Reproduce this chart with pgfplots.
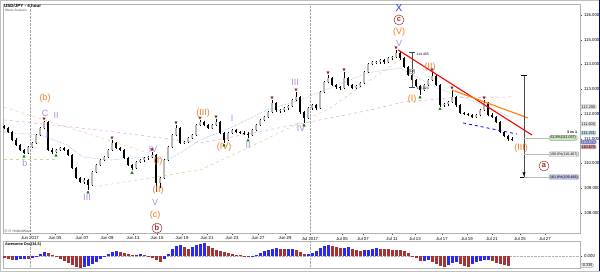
\documentclass[border=0pt]{standalone}
\usepackage{pgfplots}
\pgfplotsset{compat=1.18}
\usepackage{pgfplotstable}
\usepackage{fontspec}
\setmainfont{Liberation Sans}
\definecolor{wavor}{RGB}{245,125,35}
\definecolor{wavpu}{RGB}{175,140,230}
\definecolor{wavbl}{RGB}{30,60,230}
\definecolor{wavbr}{RGB}{165,45,40}
\definecolor{aoblue}{RGB}{40,40,255}
\definecolor{aored}{RGB}{170,50,50}
\definecolor{peach}{RGB}{250,200,160}
\definecolor{khaki}{RGB}{215,210,150}
\definecolor{pinkma}{RGB}{215,165,220}
\definecolor{lblue}{RGB}{150,185,245}
\pgfplotsset{colormap={candle}{color=(black) color=(gray!55)},
             colormap={aocm}{color=(aored) color=(aoblue)}}
\tikzset{
 wo/.style={text=wavor, font=\fontsize{9}{9}\selectfont, inner sep=0pt},
 wp/.style={text=wavpu, font=\fontsize{9}{9}\selectfont, inner sep=0pt},
 wc/.style={circle, draw=wavbr, text=wavbr, font=\bfseries\fontsize{7.5}{7.5}\selectfont, inner sep=0.5pt, minimum size=10pt, line width=0.5pt},
 fibbox/.style={draw=gray!70, rounded corners=1pt, font=\fontsize{3.6}{4}\selectfont, inner xsep=1pt, inner ysep=0.7pt, minimum width=28pt, anchor=west},
 pbox/.style={draw=gray!70, rounded corners=1pt, font=\fontsize{3.8}{4}\selectfont, inner xsep=1pt, inner ysep=0.6pt, anchor=west}
}
\pgfplotstableread{
x o h l c m
4 111.50 111.55 111.38 111.43 0
8 111.43 111.47 111.22 111.27 0
12 111.27 111.30 110.90 110.95 0
16 110.95 111.02 110.70 110.75 0
20 110.75 110.80 110.50 110.55 0
24 110.55 110.60 110.38 110.42 0
28 110.42 110.72 110.40 110.67 1
32 110.67 110.88 110.62 110.83 1
36 110.83 111.20 110.80 111.15 1
40 111.15 111.48 111.10 111.43 1
44 111.43 111.72 111.40 111.68 1
48 111.68 111.70 110.50 110.55 0
52 110.55 110.62 110.40 110.47 0
56 110.47 110.60 110.42 110.55 1
60 110.55 110.68 110.50 110.63 1
64 110.63 110.66 110.50 110.55 0
68 110.55 110.58 110.30 110.34 0
72 110.34 110.38 109.78 109.82 0
76 109.82 109.86 109.38 109.42 0
80 109.42 109.46 109.20 109.25 0
84 109.25 109.40 109.18 109.33 1
88 109.33 109.36 108.93 109.13 0
92 109.13 109.70 109.10 109.66 1
96 109.66 109.98 109.60 109.94 1
100 109.94 110.18 109.90 110.14 1
104 110.14 110.30 110.10 110.26 1
108 110.26 110.60 110.22 110.55 1
112 110.55 110.95 110.50 110.83 1
116 110.83 110.86 110.58 110.63 0
120 110.63 110.68 110.50 110.55 0
124 110.55 110.58 110.18 110.22 0
128 110.22 110.26 109.90 109.94 0
132 109.94 109.98 109.72 109.82 0
136 109.82 110.10 109.78 110.06 1
140 110.06 110.18 110.02 110.14 1
144 110.14 110.26 110.08 110.22 1
148 110.22 110.30 110.15 110.26 1
152 110.26 110.47 110.22 110.34 1
156 110.34 110.38 108.85 109.21 0
160 109.21 109.46 109.00 109.42 1
164 109.42 110.18 109.38 110.14 1
168 110.14 110.70 110.10 110.67 1
172 110.67 111.18 110.62 111.15 1
176 111.15 111.56 111.10 111.43 1
180 111.43 111.46 110.80 110.83 0
184 110.83 110.92 110.78 110.87 1
188 110.87 111.06 110.82 111.03 1
192 111.03 111.20 110.98 111.15 1
196 111.15 111.60 111.10 111.56 1
200 111.56 111.75 111.50 111.68 1
204 111.68 111.72 111.50 111.56 0
208 111.56 111.60 111.38 111.43 0
212 111.43 111.60 111.40 111.56 1
216 111.56 111.80 111.52 111.68 1
220 111.68 111.70 111.18 111.23 0
224 111.23 111.26 110.83 110.95 0
228 110.95 111.28 110.90 111.23 1
232 111.23 111.40 111.20 111.35 1
236 111.35 111.38 111.22 111.27 0
240 111.27 111.32 111.18 111.23 0
244 111.23 111.30 111.15 111.21 0
248 111.21 111.26 111.03 111.15 0
252 111.15 111.40 111.12 111.35 1
256 111.35 111.60 111.30 111.56 1
260 111.56 111.80 111.52 111.76 1
264 111.76 111.92 111.70 111.88 1
268 111.88 112.12 111.84 112.08 1
272 112.08 112.57 112.04 112.44 1
276 112.44 112.48 112.10 112.16 0
280 112.16 112.22 112.05 112.18 1
284 112.18 112.28 112.10 112.24 1
288 112.24 112.36 112.18 112.32 1
292 112.32 112.60 112.28 112.57 1
296 112.57 112.89 112.52 112.69 1
300 112.69 112.72 112.02 112.08 0
304 112.08 112.12 111.64 111.84 0
308 111.84 112.28 111.80 112.24 1
312 112.24 112.40 112.18 112.36 1
316 112.36 112.40 112.18 112.24 0
320 112.24 112.92 112.20 112.89 1
324 112.89 113.32 112.85 113.29 1
328 113.29 113.58 113.25 113.45 1
332 113.45 113.48 113.12 113.17 0
336 113.17 113.20 113.02 113.09 0
340 113.09 113.14 112.98 113.05 0
344 113.05 113.70 113.00 113.45 1
348 113.45 113.50 113.12 113.17 0
352 113.17 113.22 113.00 113.05 0
356 113.05 113.18 113.00 113.13 1
360 113.13 113.30 113.08 113.25 1
364 113.25 113.74 113.20 113.70 1
368 113.70 114.06 113.66 114.02 1
372 114.02 114.16 113.96 114.10 1
376 114.10 114.16 114.00 114.12 1
380 114.12 114.22 114.04 114.18 1
384 114.18 114.22 114.04 114.10 0
388 114.10 114.30 114.06 114.26 1
392 114.26 114.36 114.20 114.30 1
396 114.30 114.59 114.26 114.46 1
400 114.46 114.50 114.20 114.26 0
404 114.26 114.30 113.86 113.90 0
408 113.90 113.94 113.54 113.58 0
412 113.58 113.62 113.32 113.37 0
416 113.37 113.40 113.08 113.13 0
420 113.13 113.18 112.77 112.97 0
424 112.97 113.22 112.92 113.17 1
428 113.17 113.42 113.12 113.37 1
432 113.37 113.70 113.32 113.53 1
436 113.53 113.56 113.12 113.17 0
440 113.17 113.20 112.30 112.36 0
444 112.36 112.46 112.30 112.40 1
448 112.40 112.54 112.34 112.48 1
452 112.48 112.97 112.44 112.69 1
456 112.69 112.72 112.30 112.36 0
460 112.36 112.40 112.00 112.04 0
464 112.04 112.10 111.94 112.00 0
468 112.00 112.06 111.90 111.96 0
472 111.96 112.00 111.82 111.88 0
476 111.88 112.00 111.84 111.96 1
480 111.96 112.20 111.92 112.16 1
484 112.16 112.57 112.12 112.44 1
488 112.44 112.48 111.90 111.96 0
492 111.96 112.04 111.84 111.88 0
496 111.88 111.92 111.62 111.68 0
500 111.68 111.72 111.22 111.27 0
504 111.27 111.32 111.06 111.11 0
508 111.11 111.16 110.90 110.99 0
512 110.99 111.06 110.90 110.95 0
}\candles
\pgfplotstableread{
x v m
4 -0.2 0
8 -0.3 0
12 -0.4 0
16 -0.4 1
20 -0.3 1
24 -0.3 1
28 -0.3 0
32 -0.2 1
36 -0.1 1
40 0.2 1
44 0.4 1
48 0.3 0
52 0.1 0
56 -0.1 0
60 -0.3 0
64 -0.5 0
68 -0.7 0
72 -0.9 0
76 -1.1 0
80 -1.2 0
84 -1.1 1
88 -1.0 1
92 -0.8 1
96 -0.6 1
100 -0.3 1
104 -0.1 1
108 0.2 1
112 0.4 1
116 0.5 1
120 0.4 0
124 0.3 0
128 0.2 0
132 0.1 0
136 0.15 1
140 0.2 1
144 0.15 0
148 0.05 0
152 -0.2 0
156 -0.4 0
160 -0.6 0
164 -0.3 1
168 0.2 1
172 0.7 1
176 1.0 1
180 1.1 1
184 0.9 0
188 0.7 0
192 0.9 1
196 1.1 1
200 1.2 1
204 1.3 1
208 1.0 0
212 0.8 0
216 0.6 0
220 0.5 0
224 0.4 0
228 0.3 0
232 0.2 0
236 0.15 0
240 0.1 0
244 0.05 0
248 0.03 0
252 0.05 1
256 0.1 1
260 0.3 1
264 0.5 1
268 0.6 1
272 0.7 1
276 0.8 1
280 0.75 0
284 0.7 0
288 0.72 1
292 0.75 1
296 0.6 0
300 0.4 0
304 0.2 0
308 0.25 1
312 0.3 1
316 0.5 1
320 0.8 1
324 1.0 1
328 1.1 1
332 1.0 0
336 0.9 0
340 0.8 0
344 0.85 1
348 0.9 1
352 0.7 0
356 0.6 0
360 0.55 0
364 0.6 1
368 0.65 1
372 0.7 1
376 0.8 1
380 0.75 0
384 0.72 0
388 0.7 0
392 0.65 0
396 0.62 0
400 0.6 0
404 0.5 0
408 0.3 0
412 0.02 0
416 -0.2 0
420 -0.5 0
424 -0.45 1
428 -0.4 1
432 -0.6 0
436 -0.8 0
440 -1.0 0
444 -1.1 0
448 -0.9 1
452 -0.7 1
456 -0.6 1
460 -0.8 0
464 -1.0 0
468 -1.05 0
472 -0.8 1
476 -0.6 1
480 -0.5 1
484 -0.4 1
488 -0.35 1
492 -0.5 0
496 -0.7 0
500 -0.8 0
504 -0.9 0
508 -1.0 0
}\ao
\begin{document}
\begin{tikzpicture}[x=1pt,y=1pt]
\useasboundingbox (0,0) rectangle (600,271);
\fill[white] (0,0) rectangle (600,271);
\begin{axis}[
  at={(3pt,38pt)}, anchor=south west, scale only axis,
  width=577pt, height=229pt,
  xmin=3, xmax=580, ymin=107.192, ymax=116.444,
  clip=false,
  axis line style={gray!60, line width=0.4pt},
  tick style={gray!60!black, line width=0.3pt},
  tick align=outside, major tick length=1.6pt,
  ytick={108,109,...,116}, ytick pos=right, yticklabel pos=right,
  yticklabel style={font=\fontsize{4.3}{5}\selectfont, xshift=-1pt},
  /pgf/number format/fixed, /pgf/number format/fixed zerofill,
  /pgf/number format/precision=3, /pgf/number format/assume math mode=true,
  xtick={30,55,82,107,133,157,182,207,232,258,285,310,342,363,392,415,442,467,492,520,545},
  xticklabels={Jun 2017,Jun 05,Jun 07,Jun 09,Jun 13,Jun 15,Jun 19,Jun 21,Jun 23,Jun 27,Jun 29,Jul 2017,Jul 05,Jul 07,Jul 11,Jul 13,Jul 17,Jul 19,Jul 21,Jul 25,Jul 27},
  xtick pos=left,
  xticklabel style={font=\fontsize{4.3}{5}\selectfont, yshift=1.2pt},
  colormap name=candle, point meta min=0, point meta max=1,
]
% month separators
\addplot[gray!70, densely dotted, line width=0.4pt] coordinates {(30,107.192)(30,116.444)};
\addplot[gray!70, densely dotted, line width=0.4pt] coordinates {(310,107.192)(310,116.444)};
% moving averages / guide lines
\addplot[pinkma, dashed, line width=0.5pt] coordinates {(4,111.76)(100,111.35)(200,110.83)(300,111.60)(370,112.16)(403,112.48)(450,112.65)(512,112.69)};
\addplot[peach, dashed, line width=0.5pt] coordinates {(4,112.28)(155,110.34)};
\addplot[khaki, dashed, line width=0.5pt] coordinates {(4,110.18)(55,110.18)};
\addplot[khaki, dashed, line width=0.5pt] coordinates {(87,109.01)(200,109.74)(250,110.67)(330,112.24)(370,113.37)(400,114.18)};
\addplot[lblue, densely dotted, line width=0.6pt] coordinates {(4,111.27)(40,111.15)(67,110.75)(83,110.26)(110,110.14)(133,110.22)(153,110.26)(167,110.14)(180,110.42)(200,110.95)(230,111.43)(267,112.16)(300,112.57)(333,113.09)(367,113.66)(400,113.86)(437,113.05)(470,112.57)(500,112.08)(512,111.84)};
% candles
\addplot[black, line width=0.45pt, quiver={u=0, v=\thisrow{h}-\thisrow{l}}] table[x=x,y=l] {\candles};
\addplot[line width=2.4pt, point meta=explicit, quiver={u=0, v=\thisrow{c}-\thisrow{o}, colored}] table[x=x,y=o,meta=m] {\candles};
% peak / trough markers
\addplot[only marks, mark=triangle*, mark size=1.4pt, mark options={rotate=180, fill=wavbr!80!black, draw=wavbr!80!black}] coordinates {(44,111.82)(112,111.05)(152,110.57)(176,111.66)(200,111.85)(216,111.90)(272,112.67)(296,112.99)(328,113.68)(344,113.80)(396,114.69)(432,113.80)(452,113.07)(484,112.67)};
\addplot[only marks, mark=triangle*, mark size=1.4pt, mark options={fill=green!50!black, draw=green!50!black}] coordinates {(24,110.28)(56,110.32)(88,108.83)(132,109.62)(224,110.73)(248,110.93)(304,111.54)(420,112.67)(440,112.20)};
% trend lines
\addplot[red, line width=1.1pt] coordinates {(398,114.59)(532,111.15)};
\addplot[orange, line width=1.1pt] coordinates {(452,112.97)(528,111.84)};
\addplot[blue, dashed, line width=0.8pt] coordinates {(463,111.64)(517,111.19)};
% measure at the top
\addplot[gray!60!black, line width=0.4pt] coordinates {(412,114.49)(412,113.07)};
\addplot[gray!60!black, line width=0.4pt] coordinates {(409,114.49)(415,114.49)};
\addplot[gray!60!black, line width=0.4pt] coordinates {(409,113.07)(415,113.07)};
\node[anchor=west, font=\fontsize{3.4}{4}\selectfont, inner sep=0.5pt] at (axis cs:416,114.42) {114.405};
\node[anchor=west, font=\fontsize{3.4}{4}\selectfont, inner sep=0.5pt] at (axis cs:416,113.05) {113.024};
\node[draw=gray!60, font=\fontsize{3}{3}\selectfont, inner sep=0.6pt] at (axis cs:412,113.73) {1/1};
% fibonacci projection
\addplot[gray!60!black, line width=0.6pt] coordinates {(524,113.54)(524,109.45)};
\addplot[black, line width=0.8pt] coordinates {(521,113.54)(527,113.54)};
\addplot[black, line width=0.8pt] coordinates {(520,109.45)(528,109.45)};
\addplot[black, line width=0.5pt, -latex] coordinates {(524,109.62)(524,109.47)};
\addplot[gray!55, line width=0.8pt] coordinates {(524,111.03)(549,111.03)};
\addplot[gray!55, line width=0.8pt] coordinates {(524,110.38)(549,110.38)};
\addplot[gray!55, line width=0.8pt] coordinates {(524,109.45)(549,109.45)};
\node[fibbox, fill={rgb,255:red,200;green,232;blue,190}] at (axis cs:549,111.03) {61.8\%(111.037)};
\node[fibbox, fill=gray!15] at (axis cs:549,110.38) {100.0\%(110.407)};
\node[fibbox, fill={rgb,255:red,190;green,195;blue,235}] at (axis cs:549,109.45) {161.8\%(109.466)};
\node[font=\bfseries\fontsize{3.6}{4}\selectfont, inner sep=0pt] at (axis cs:572,111.26) {3 vs 1};
% price labels on the axis
\node[pbox, fill=gray!12] at (axis cs:580.5,112.29) {112.290};
\node[pbox, fill=gray!12] at (axis cs:580.5,111.60) {111.600};
\node[pbox, fill={rgb,255:red,190;green,225;blue,245}] at (axis cs:580.5,111.23) {111.231};
\node[pbox, fill={rgb,255:red,110;green,110;blue,200}, text=white] at (axis cs:580.5,110.87) {110.870};
\node[pbox, fill={rgb,255:red,225;green,150;blue,150}] at (axis cs:580.5,110.67) {110.670};
% wave labels
\node[wo] at (axis cs:45,112.65) {(b)};
\node[wp] at (axis cs:45,112.04) {C};
\node[wp] at (axis cs:56,111.96) {II};
\node[wp] at (axis cs:47,111.15) {I};
\node[wp] at (axis cs:25,110.02) {b};
\node[wp] at (axis cs:87,108.65) {III};
\node[wp] at (axis cs:153,110.55) {IV};
\node[wo] at (axis cs:158,110.10) {(I)};
\node[wo] at (axis cs:158,108.93) {(II)};
\node[wp] at (axis cs:155,108.44) {V};
\node[wo] at (axis cs:155,107.92) {(c)};
\node[wc] at (axis cs:157,107.39) {b};
\node[wo] at (axis cs:203,112.04) {(III)};
\node[wp] at (axis cs:232,111.84) {I};
\node[wo] at (axis cs:224,110.67) {(IV)};
\node[wp] at (axis cs:248,110.75) {II};
\node[wp] at (axis cs:295,113.29) {III};
\node[wp] at (axis cs:301,111.43) {IV};
\node[text=wavbl, font=\fontsize{10}{10}\selectfont, inner sep=0pt] at (axis cs:399,116.30) {X};
\node[wc] at (axis cs:399,115.80) {c};
\node[wo] at (axis cs:399,115.31) {(V)};
\node[wp] at (axis cs:399,114.87) {V};
\node[wo] at (axis cs:412,112.61) {(I)};
\node[wo] at (axis cs:430,113.90) {(II)};
\node[wo] at (axis cs:521,110.63) {(III)};
\node[wc] at (axis cs:544,109.90) {a};
\end{axis}
\begin{axis}[
  at={(3pt,3pt)}, anchor=south west, scale only axis,
  width=577pt, height=27pt,
  xmin=3, xmax=580, ymin=-1.2, ymax=1.5,
  clip=false,
  axis line style={gray!60, line width=0.4pt},
  tick style={gray!60!black, line width=0.3pt},
  tick align=outside, major tick length=1.6pt,
  xtick=\empty, ytick={0}, ytick pos=right, yticklabel pos=right,
  yticklabel style={font=\fontsize{4.3}{5}\selectfont, xshift=-1pt},
  /pgf/number format/fixed, /pgf/number format/fixed zerofill,
  /pgf/number format/precision=3, /pgf/number format/assume math mode=true,
  colormap name=aocm, point meta min=0, point meta max=1,
]
\addplot[gray!70, densely dotted, line width=0.4pt] coordinates {(30,-1.2)(30,1.5)};
\addplot[gray!70, densely dotted, line width=0.4pt] coordinates {(310,-1.2)(310,1.5)};
\addplot[gray!60, densely dotted, line width=0.4pt] coordinates {(3,0)(580,0)};
\addplot[line width=3pt, point meta=explicit, quiver={u=0, v=\thisrow{v}, colored}] table[x=x, y expr=0, meta=m] {\ao};
\node[anchor=west, font=\bfseries\fontsize{3.8}{4}\selectfont, inner sep=0pt] at (axis cs:5,1.15) {Awesome Osc(34,5)};
\node[pbox, fill=gray!12] at (axis cs:580.5,-0.95) {-0.335};
\end{axis}
\node[anchor=west, font=\bfseries\fontsize{4.5}{5}\selectfont, inner sep=0pt] at (4,265.5) {USD/JPY - 4 hour};
\node[anchor=west, font=\fontsize{3.3}{4}\selectfont, text=gray!70!black, inner sep=0pt] at (5,260) {Wave Analysis};
\node[anchor=west, font=\fontsize{3.5}{4}\selectfont, text=gray!70!black, inner sep=0pt] at (4,40) {$\diamond\diamond$ HotbutWave};
\draw[gray!50, line width=0.5pt] (0.25,0.25) rectangle (599.75,270.75);
\draw[blue!60!black, line width=0.8pt] (599.6,0) -- (599.6,271);
\end{tikzpicture}
\end{document}
